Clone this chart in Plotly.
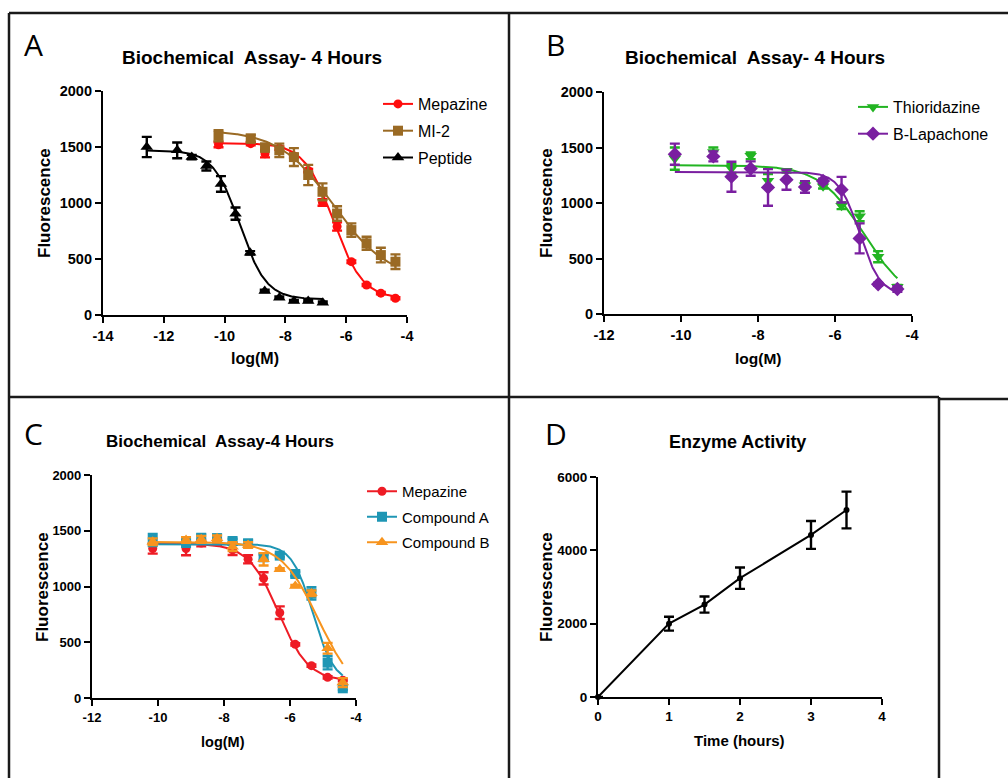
import numpy as np
import plotly.graph_objects as go

W, H = 1008, 778


def px(x):
    return x / W


def py(y):
    return 1 - y / H


# ---------------- Panel A data ----------------
a_x_pep = [-12.56, -11.56, -11.08, -10.60, -10.12, -9.64, -9.16, -8.68, -8.20, -7.72, -7.25, -6.77]
a_pep = [1500, 1470, 1410, 1330, 1170, 905, 555, 215, 155, 125, 125, 110]
a_pep_err = [90, 70, 20, 40, 70, 55, 15, 10, 10, 10, 10, 10]
a_x = [-10.20, -9.14, -8.67, -8.20, -7.72, -7.25, -6.78, -6.30, -5.83, -5.33, -4.86, -4.38]
a_mep = [1520, 1530, 1440, 1490, 1420, 1290, 1005, 790, 476, 268, 195, 150]
a_mep_err = [22, 15, 33, 15, 15, 15, 30, 37, 12, 10, 10, 10]
a_mi2 = [1600, 1575, 1495, 1470, 1410, 1250, 1100, 906, 758, 640, 535, 476]
a_mi2_err = [50, 35, 35, 60, 80, 90, 75, 65, 60, 58, 65, 65]
# fitted curve parameters: top, bottom, logIC50, hill slope
a_pep_fit = [1470, 140, -9.5, 1.0]
a_mep_fit = [1535, 145, -6.42, 0.9]
a_mi2_fit = [1650, 320, -6.43, 0.49]
a_xticks = [-14, -12, -10, -8, -6, -4]
a_yticks = [0, 500, 1000, 1500, 2000]

# ---------------- Panel B data ----------------
b_x = [-10.16, -9.16, -8.69, -8.19, -7.74, -7.26, -6.78, -6.31, -5.83, -5.36, -4.88, -4.38]
b_thio = [1400, 1460, 1310, 1425, 1200, 1290, 1160, 1150, 975, 880, 516, 246]
b_thio_err = [100, 40, 40, 30, 60, 15, 30, 20, 30, 45, 50, 15]
b_blap = [1440, 1420, 1237, 1310, 1140, 1210, 1145, 1198, 1120, 681, 268, 225]
b_blap_err = [95, 45, 135, 65, 165, 90, 52, 20, 115, 135, 15, 25]
b_thio_fit = [1340, 100, -5.25, 0.76]
b_blap_fit = [1280, 170, -5.36, 1.6]
b_xticks = [-12, -10, -8, -6, -4]
b_yticks = [0, 500, 1000, 1500, 2000]

# ---------------- Panel C data ----------------
c_x = [-10.16, -9.15, -8.69, -8.21, -7.74, -7.27, -6.80, -6.31, -5.84, -5.35, -4.86, -4.40]
c_mep = [1340, 1340, 1390, 1400, 1328, 1244, 1073, 765, 481, 290, 185, 160]
c_mep_err = [45, 60, 30, 25, 45, 37, 55, 57, 10, 10, 10, 10]
c_cpa = [1417, 1390, 1432, 1432, 1408, 1387, 1262, 1277, 1112, 939, 317, 87]
c_cpa_err = [55, 20, 40, 35, 20, 30, 25, 15, 20, 55, 60, 15]
c_cpb = [1402, 1417, 1423, 1432, 1357, 1372, 1244, 1154, 1005, 939, 446, 138]
c_cpb_err = [30, 25, 30, 25, 40, 25, 55, 10, 10, 25, 48, 40]
c_mep_fit = [1385, 150, -6.35, 0.95]
c_cpa_fit = [1380, 130, -5.30, 1.35]
c_cpb_fit = [1400, 0, -5.13, 0.76]
c_xticks = [-12, -10, -8, -6, -4]
c_yticks = [0, 500, 1000, 1500, 2000]

# ---------------- Panel D data ----------------
d_t = [0, 1, 1.5, 2, 3, 3.5]
d_f = [0, 2000, 2520, 3240, 4420, 5100]
d_err = [0, 190, 220, 290, 380, 500]
d_xticks = [0, 1, 2, 3, 4]
d_yticks = [0, 2000, 4000, 6000]

# colours
RED_A = "#FF0D0D"
BROWN = "#9A6A24"
BLACK = "#000000"
GREEN = "#22B422"
PURPLE = "#7A1FA0"
RED_C = "#EE1C25"
TEAL = "#1E96B4"
ORANGE = "#F7941E"


def four_pl(xs, p):
    top, bottom, c, h = p
    xs = np.asarray(xs, dtype=float)
    return bottom + (top - bottom) / (1 + 10 ** ((xs - c) * h))


fig = go.Figure()


def add_series(xv, yv, err, fit, color, symbol, size, name, ax, legend):
    xa = "x" if ax == 1 else f"x{ax}"
    ya = "y" if ax == 1 else f"y{ax}"
    xs = np.linspace(min(xv), max(xv), 300)
    fig.add_trace(go.Scatter(x=xs, y=four_pl(xs, fit), mode="lines",
                             line=dict(color=color, width=2), xaxis=xa, yaxis=ya,
                             showlegend=False, hoverinfo="skip"))
    fig.add_trace(go.Scatter(x=xv, y=yv, mode="markers",
                             marker=dict(color=color, symbol=symbol, size=size),
                             error_y=dict(type="data", array=err, color=color,
                                          thickness=2.4, width=5),
                             xaxis=xa, yaxis=ya, showlegend=False, cliponaxis=False,
                             name=name))
    # legend entry (line + marker)
    fig.add_trace(go.Scatter(x=[None], y=[None], mode="lines+markers",
                             marker=dict(color=color, symbol=symbol, size=size),
                             line=dict(color=color, width=2), name=name,
                             xaxis=xa, yaxis=ya, legend=legend, legendgroup=name))


add_series(a_x, a_mep, a_mep_err, a_mep_fit, RED_A, "circle", 9, "Mepazine", 1, "legend")
add_series(a_x, a_mi2, a_mi2_err, a_mi2_fit, BROWN, "square", 10, "MI-2", 1, "legend")
add_series(a_x_pep, a_pep, a_pep_err, a_pep_fit, BLACK, "triangle-up", 11, "Peptide", 1, "legend")

add_series(b_x, b_thio, b_thio_err, b_thio_fit, GREEN, "triangle-down", 11, "Thioridazine", 2, "legend2")
add_series(b_x, b_blap, b_blap_err, b_blap_fit, PURPLE, "diamond", 11, "B-Lapachone", 2, "legend2")

add_series(c_x, c_mep, c_mep_err, c_mep_fit, RED_C, "circle", 9, "Mepazine", 3, "legend3")
add_series(c_x, c_cpa, c_cpa_err, c_cpa_fit, TEAL, "square", 10, "Compound A", 3, "legend3")
add_series(c_x, c_cpb, c_cpb_err, c_cpb_fit, ORANGE, "triangle-up", 11, "Compound B", 3, "legend3")

fig.add_trace(go.Scatter(x=d_t, y=d_f, mode="lines+markers",
                         line=dict(color=BLACK, width=2),
                         marker=dict(color=BLACK, size=6),
                         error_y=dict(type="data", array=d_err, color=BLACK,
                                      thickness=2.4, width=5),
                         xaxis="x4", yaxis="y4", showlegend=False, cliponaxis=False))


def axis(domain, rng, ticks, anchor, tsize):
    return dict(domain=domain, range=rng, anchor=anchor,
                tickmode="array", tickvals=ticks, ticktext=[str(t) for t in ticks],
                showline=True, linecolor="black", linewidth=2.2,
                ticks="outside", ticklen=6, tickwidth=2.2, tickcolor="black",
                showgrid=False, zeroline=False, fixedrange=True,
                tickfont=dict(family="Liberation Sans", size=tsize, color="black",
                              weight="bold"))


layout = dict(
    width=W, height=H, margin=dict(l=0, r=0, t=0, b=0, autoexpand=False),
    paper_bgcolor="white", plot_bgcolor="white",
    xaxis=axis([px(103), px(407)], [-14, -4], a_xticks, "y", 14.5),
    yaxis=axis([py(315), py(91)], [0, 2000], a_yticks, "x", 14.5),
    xaxis2=axis([px(604), px(912)], [-12, -4], b_xticks, "y2", 14.5),
    yaxis2=axis([py(314), py(92)], [0, 2000], b_yticks, "x2", 14.5),
    xaxis3=axis([px(92), px(356)], [-12, -4], c_xticks, "y3", 13),
    yaxis3=axis([py(698), py(475)], [0, 2000], c_yticks, "x3", 13),
    xaxis4=axis([px(598), px(882)], [0, 4], d_xticks, "y4", 13.5),
    yaxis4=axis([py(697), py(477)], [0, 6000], d_yticks, "x4", 13.5),
    showlegend=True,
    legend=dict(x=px(378), y=py(87), xanchor="left", yanchor="top",
                font=dict(family="Liberation Sans", size=16, color="black"),
                bgcolor="rgba(0,0,0,0)", itemwidth=30, tracegroupgap=3),
    legend2=dict(x=px(853), y=py(90), xanchor="left", yanchor="top",
                 font=dict(family="Liberation Sans", size=16, color="black"),
                 bgcolor="rgba(0,0,0,0)", itemwidth=30, tracegroupgap=3),
    legend3=dict(x=px(362), y=py(475), xanchor="left", yanchor="top",
                 font=dict(family="Liberation Sans", size=15, color="black"),
                 bgcolor="rgba(0,0,0,0)", itemwidth=30, tracegroupgap=3),
)
fig.update_layout(**layout)

ann = []


def text(x, y, s, size, bold=True, angle=0, family="Liberation Sans"):
    ann.append(dict(x=px(x), y=py(y), xref="paper", yref="paper", text=s,
                    showarrow=False, xanchor="center", yanchor="middle",
                    textangle=angle,
                    font=dict(family=family, size=size, color="black",
                              weight="bold" if bold else "normal")))


TITLE = "Biochemical\u00a0 Assay- 4 Hours"
text(252, 57, TITLE, 19)
text(755, 57, TITLE, 19)
text(220, 442, "Biochemical\u00a0 Assay-4 Hours", 17)
text(737, 442, "Enzyme Activity", 18)

text(33, 44, "A", 30, bold=False, family="Open Sans")
text(555, 44, "B", 30, bold=False, family="Open Sans")
text(33, 434, "C", 30, bold=False, family="Open Sans")
text(556, 434, "D", 30, bold=False, family="Open Sans")

text(45, 203, "Fluorescence", 17, angle=-90)
text(547, 203, "Fluorescence", 17, angle=-90)
text(42, 587, "Fluorescence", 17, angle=-90)
text(546, 587, "Fluorescence", 17, angle=-90)

text(255, 358, "log(M)", 16)
text(758, 358, "log(M)", 15.5)
text(223, 742, "log(M)", 14.5)
text(739, 740, "Time (hours)", 15)

fig.update_layout(annotations=ann)

# panel borders
LC = "#1a1a1a"
borders = [
    (9, 13, 1008, 13),
    (9, 13, 9, 778),
    (509, 13, 509, 778),
    (9, 397, 939, 397),
    (939, 399, 1008, 399),
    (939, 397, 939, 778),
]
shapes = []
for x0, y0, x1, y1 in borders:
    shapes.append(dict(type="line", xref="paper", yref="paper",
                       x0=px(x0), y0=py(y0), x1=px(x1), y1=py(y1),
                       line=dict(color=LC, width=2.5)))
fig.update_layout(shapes=shapes)

fig.write_html(
    "out.html",
    post_script="document.body.style.margin='0';document.body.style.overflow='hidden';",
)
